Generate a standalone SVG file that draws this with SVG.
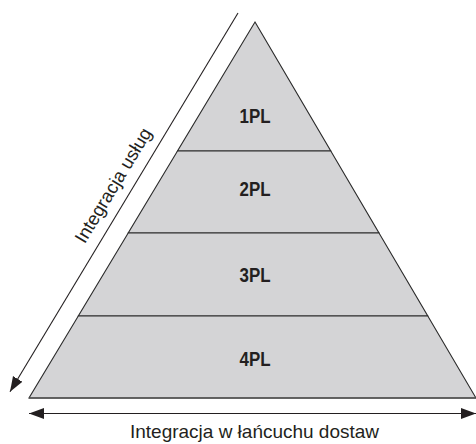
<svg xmlns="http://www.w3.org/2000/svg" width="476" height="444" viewBox="0 0 476 444">
  <style>
    .band { fill: #d4d4d6; stroke: #2a2a2a; stroke-width: 1.1; stroke-linejoin: miter; }
    .lbl { font-family: "Liberation Sans", Arial, sans-serif; font-weight: bold; font-size: 19.5px; fill: #231f20; text-anchor: middle; }
    .axis { font-family: "Liberation Sans", Arial, sans-serif; font-size: 18.5px; fill: #231f20; text-anchor: middle; }
    .conn { stroke: #231f20; stroke-width: 1.1; fill: none; }
  </style>
  <defs>
    <marker id="head" markerUnits="userSpaceOnUse" markerWidth="16" markerHeight="12" refX="15" refY="6" orient="auto">
      <path d="M0,0.5 L15,6 L0,11.5 z" fill="#231f20"/>
    </marker>
    <marker id="headStart" markerUnits="userSpaceOnUse" markerWidth="16" markerHeight="12" refX="0" refY="6" orient="auto">
      <path d="M15,0.5 L0,6 L15,11.5 z" fill="#231f20"/>
    </marker>
  </defs>

  <rect width="476" height="444" fill="#ffffff"/>

  <!-- pyramid levels, top to bottom -->
  <g id="level-1pl">
    <polygon class="band" points="255,22 330.8,151 177.5,151"/>
    <text class="lbl" x="255" y="123.3" textLength="31" lengthAdjust="spacingAndGlyphs">1PL</text>
  </g>
  <g id="level-2pl">
    <polygon class="band" points="177.5,151 330.8,151 379,233 128.2,233"/>
    <text class="lbl" x="255" y="196.3" textLength="31" lengthAdjust="spacingAndGlyphs">2PL</text>
  </g>
  <g id="level-3pl">
    <polygon class="band" points="128.2,233 379,233 427.8,316 78.3,316"/>
    <text class="lbl" x="255" y="282.3" textLength="31" lengthAdjust="spacingAndGlyphs">3PL</text>
  </g>
  <g id="level-4pl">
    <polygon class="band" points="78.3,316 427.8,316 476,398 29,398"/>
    <text class="lbl" x="255" y="365.5" textLength="31" lengthAdjust="spacingAndGlyphs">4PL</text>
  </g>
  <!-- heavier grey base edge -->
  <line x1="29" y1="398" x2="476" y2="398" stroke="#555" stroke-width="1.6"/>

  <!-- axis arrows -->
  <g id="connectors">
    <path class="conn" d="M238,13 L10,391.7" marker-end="url(#head)"/>
    <path class="conn" d="M29,413.5 L476,413.5" marker-start="url(#headStart)" marker-end="url(#head)"/>
  </g>

  <!-- axis labels -->
  <text class="axis" transform="translate(118.6,188.6) rotate(-58.9)" x="0" y="0">Integracja usług</text>
  <text class="axis" x="254.5" y="437.5" textLength="249" lengthAdjust="spacingAndGlyphs">Integracja w łańcuchu dostaw</text>
</svg>
